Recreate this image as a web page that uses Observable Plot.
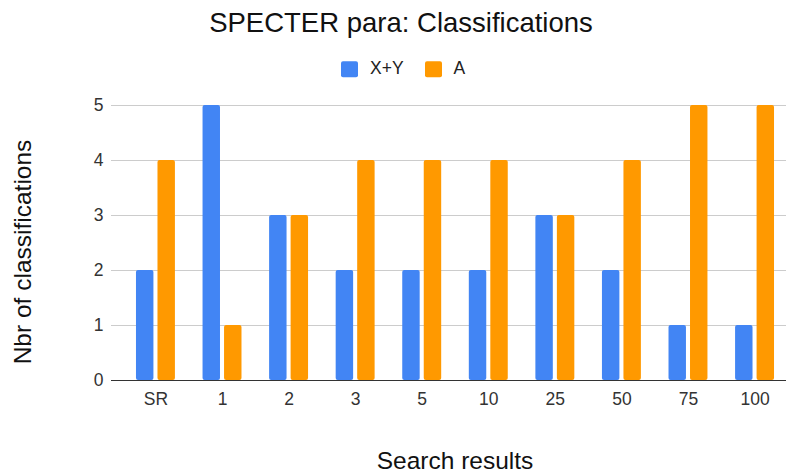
<!DOCTYPE html>
<html>
<head>
<meta charset="utf-8">
<script src="https://cdn.jsdelivr.net/npm/d3@7"></script>
<script src="https://cdn.jsdelivr.net/npm/@observablehq/plot@0.6"></script>
<style>
  html, body { margin: 0; padding: 0; background: #fff; }
  #wrap { position: relative; width: 787px; height: 475px; font-family: Arial, "Liberation Sans", sans-serif; overflow: hidden; }
  #title { position: absolute; left: 0; width: 802px; top: 23px; transform: translateY(-50%); text-align: center; font-size: 27.5px; color: #111; white-space: nowrap; line-height: 1; }
  #legend { position: absolute; left: 341px; top: 69px; transform: translateY(-50%); font-size: 17.5px; color: #222; white-space: nowrap; line-height: 1; display: flex; align-items: center; }
  #legend span.sw { display: inline-block; width: 17px; height: 16px; border-radius: 2px; margin-right: 12px; }
  #legend span.item { display: flex; align-items: center; margin-right: 21px; }
  #ylabel { position: absolute; left: 23px; top: 252px; transform: translate(-50%, -50%) rotate(-90deg); font-size: 24.5px; color: #111; white-space: nowrap; line-height: 1; }
  #xlabel { position: absolute; left: 455px; top: 461px; transform: translate(-50%, -50%); font-size: 24.5px; color: #111; white-space: nowrap; line-height: 1; }
  #chart { position: absolute; left: 0; top: 0; }
</style>
</head>
<body>
<div id="wrap">
  <div id="chart"></div>
  <div id="title"></div>
  <div id="legend"></div>
  <div id="ylabel"></div>
  <div id="xlabel"></div>
</div>
<script>
const titleText = "SPECTER para: Classifications";
const xTitle = "Search results";
const yTitle = "Nbr of classifications";
const categories = ["SR", "1", "2", "3", "5", "10", "25", "50", "75", "100"];
const series = ["X+Y", "A"];
const colors = ["#4285F4", "#FF9900"];
const valuesXY = [2, 5, 3, 2, 2, 2, 3, 2, 1, 1];
const valuesA = [4, 1, 3, 4, 4, 4, 3, 4, 5, 5];
const yTicks = [0, 1, 2, 3, 4, 5];

const dataXY = categories.map((c, i) => ({cat: c, series: series[0], value: valuesXY[i]}));
const dataA = categories.map((c, i) => ({cat: c, series: series[1], value: valuesA[i]}));

document.getElementById("title").textContent = titleText;
document.getElementById("xlabel").textContent = xTitle;
document.getElementById("ylabel").textContent = yTitle;
const legend = document.getElementById("legend");
series.forEach((s, i) => {
  const item = document.createElement("span");
  item.className = "item";
  const sw = document.createElement("span");
  sw.className = "sw";
  sw.style.background = colors[i];
  item.appendChild(sw);
  item.appendChild(document.createTextNode(s));
  legend.appendChild(item);
});

const barW = 17.5;
const groupW = 39;

const chart = Plot.plot({
  width: 787,
  height: 475,
  marginLeft: 111,
  marginRight: 1,
  marginTop: 105,
  marginBottom: 95,
  style: {fontFamily: 'Arial, "Liberation Sans", sans-serif', fontSize: "17.5px", color: "#333", background: "transparent"},
  x: {domain: categories, range: [122, 788], paddingInner: 0.415, paddingOuter: 0.21, round: false, tickSize: 0, tickPadding: 12, label: null},
  y: {domain: [0, 5], ticks: yTicks, tickFormat: d => String(d), tickSize: 0, tickPadding: 8, label: null},
  color: {domain: series, range: colors},
  marks: [
    Plot.ruleY(yTicks, {stroke: "#cccccc", strokeWidth: 1}),
    Plot.barY(dataXY, {x: "cat", y: "value", fill: "series", insetRight: groupW - barW, rx: 2}),
    Plot.barY(dataA, {x: "cat", y: "value", fill: "series", insetLeft: groupW - barW, rx: 2}),
    Plot.ruleY([0], {stroke: "#333333", strokeWidth: 1})
  ]
});
document.getElementById("chart").appendChild(chart);
</script>
</body>
</html>
